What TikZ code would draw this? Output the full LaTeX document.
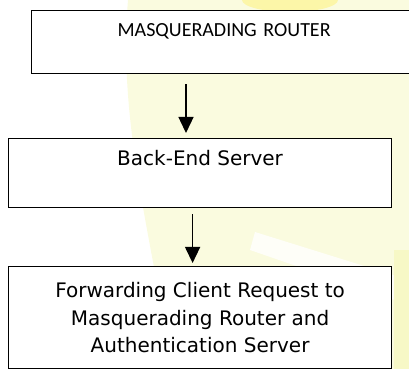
\documentclass[tikz,border=0pt]{standalone}
\usepackage{fontspec}
\setmainfont{DejaVu Sans}
\newfontfamily\calibri{Carlito}
\usetikzlibrary{arrows.meta,backgrounds}
\definecolor{wash}{HTML}{FAFBDF}
\definecolor{glow}{HTML}{FCF6A8}
\definecolor{rim}{HTML}{F7F8C6}

\begin{document}
\begin{tikzpicture}[x=0.5pt,y=-0.5pt,
  every node/.style={font=\fontsize{10}{13.85}\selectfont},
  box/.style={draw=black,fill=white,line width=0.6pt,minimum width=191.5pt,align=center,inner ysep=0pt,anchor=north west},
  arr/.style={-{Triangle[length=8pt,width=7.5pt]},line width=0.7pt}]
  \useasboundingbox (0,0) rectangle (409,369);
  \clip (0,0) rectangle (409,369);
  \node[box,align=left,text width=200pt,inner xsep=43pt,text height=13pt,text depth=18.5pt,font=\calibri\fontsize{10}{12}\selectfont] (router) at (31,10) {MASQUERADING ROUTER};
  \node[box,text height=13.5pt,text depth=21pt] (backend) at (8,138) {Back-End Server};
  \node[box,minimum height=51pt] (forward) at (8,266) {Forwarding Client Request to\\Masquerading Router and\\Authentication Server};
  \draw[arr,shorten <=5pt,shorten >=2.5pt] ([xshift=77.5pt]router.west |- router.south) -- ([xshift=77.5pt]router.west |- backend.north);
  \draw[arr,shorten <=3pt,shorten >=1.5pt] ([xshift=-3.75pt]backend.south) -- ([xshift=-3.75pt]backend.south |- forward.north);
  % faint watermark behind the boxes
  \begin{scope}[on background layer]
    \fill[wash] (128,0) .. controls (118,120) and (150,230) .. (172,369) -- (409,369) -- (409,0) -- cycle;
    \fill[white,opacity=0.8] (255,232) -- (409,280) -- (409,305) -- (250,250) -- cycle;
    \fill[glow] (290,0) ellipse (48 and 12);
    \fill[rim] (394,250) rectangle (409,369);
  \end{scope}
\end{tikzpicture}
\end{document}
